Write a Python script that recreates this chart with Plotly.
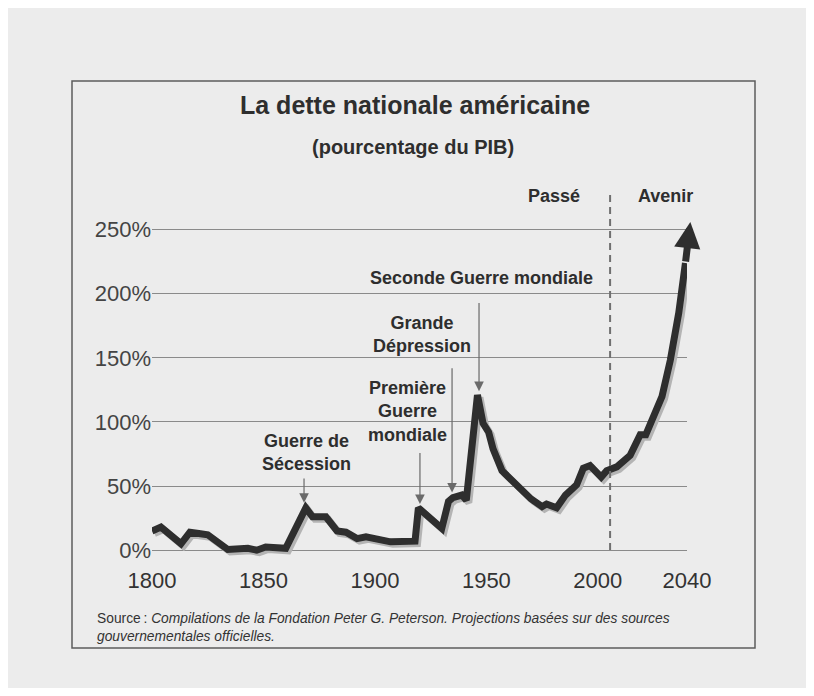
import plotly.graph_objects as go

# ---------------- data ----------------
years = [1800, 1804, 1813, 1817, 1821, 1825, 1834, 1843, 1847, 1851, 1860,
         1869, 1872, 1878, 1883, 1887, 1892, 1896, 1907, 1918, 1919.5,
         1922, 1930, 1933, 1935, 1939, 1941, 1946, 1948.5, 1951, 1953,
         1957, 1962, 1966, 1970, 1975, 1977, 1981.5, 1985.5, 1990.5, 1993.5,
         1996.5, 2001.5, 2004, 2008.5, 2014.5, 2019, 2021.5, 2025, 2028.8,
         2032.5, 2036.3, 2039.3, 2041.5]
debt_pct = [15, 18, 5, 14, 13, 12, 0.5, 1.5, 0, 2.5, 1.5,
            33, 26, 26, 15, 14, 9, 10.5, 6.5, 7, 33,
            29, 17, 38, 41, 43, 39, 121, 99, 92, 79,
            62, 53, 46, 40, 34, 36, 33, 43, 51, 64,
            66, 57, 62, 65, 74, 90, 90, 103, 120,
            148, 185, 224, 256]

x_tick_vals = [1800, 1850, 1900, 1950, 2000, 2040]
y_tick_vals = [0, 50, 100, 150, 200, 250]
y_tick_text = [f"{v}%" for v in y_tick_vals]

title_text = "La dette nationale américaine"
subtitle_text = "(pourcentage du PIB)"
event_labels = ["Guerre de<br>Sécession", "Première<br>Guerre<br>mondiale",
                "Grande<br>Dépression", "Seconde Guerre mondiale"]
period_labels = ["Passé", "Avenir"]
divider_year = 2005.5
source_text = ("Source\u202f: <i>Compilations de la Fondation Peter G. Peterson. "
               "Projections basées sur des sources<br>gouvernementales officielles.</i>")

# ---------------- layout constants ----------------
FONT = "Liberation Sans, Arial, Helvetica, sans-serif"
INK = "#2e2e2e"
OFF = 8                      # the page places the figure 8px from the top-left corner
W, H = 814 - 2 * OFF, 696 - 2 * OFF
PLOT_LEFT, PLOT_RIGHT, PLOT_TOP, PLOT_BOTTOM = 152, 687, 204, 563   # screen pixels
ML, MR = PLOT_LEFT - OFF, W + OFF - PLOT_RIGHT
MT, MB = PLOT_TOP - OFF, H + OFF - PLOT_BOTTOM
X_RANGE = [1800, 2040]
Y_RANGE = [-10, 270]
plot_w = W - ML - MR
plot_h = H - MT - MB
px_per_year = plot_w / (X_RANGE[1] - X_RANGE[0])
px_per_pct = plot_h / (Y_RANGE[1] - Y_RANGE[0])
shadow_dx, shadow_dy = 2.5, 2.5  # pixels


def px_x(p):
    """screen x pixel -> paper fraction"""
    return (p - PLOT_LEFT) / plot_w


def px_y(p):
    """screen y pixel -> paper fraction"""
    return (PLOT_BOTTOM - p) / plot_h


# event label centres (year, pct) and arrows (year, tail pct, tip pct)
label_pos = [(1869.5, 76), (1914.4, 108), (1921.1, 168), (1947.6, 212.5)]
arrow_pos = [(1868.2, 57, 37), (1920.2, 77, 36), (1934.6, 143, 45), (1946.7, 194, 124)]
period_x = [1980.3, 2030.5]

fig = go.Figure()

# shadow of the line (same data, on an axis pair shifted by a few pixels)
fig.add_trace(go.Scatter(
    x=years[:-1], y=debt_pct[:-1], mode="lines", xaxis="x2", yaxis="y2",
    line=dict(color="#b4b4b4", width=7), hoverinfo="skip", showlegend=False))

# main line
fig.add_trace(go.Scatter(
    x=years[:-1], y=debt_pct[:-1], mode="lines", xaxis="x3", yaxis="y3",
    line=dict(color=INK, width=7), showlegend=False))

annotations = []
# arrow-head at the end of the projection
annotations.append(dict(
    x=years[-1], y=debt_pct[-1], ax=years[-2], ay=debt_pct[-2],
    xref="x3", yref="y3", axref="x3", ayref="y3", text="", showarrow=True,
    arrowhead=2, arrowsize=0.75, arrowwidth=7, arrowcolor=INK, standoff=0))

for lab, (lx, ly) in zip(event_labels, label_pos):
    annotations.append(dict(
        x=lx, y=ly, xref="x", yref="y", text="<b>" + lab + "</b>", showarrow=False,
        font=dict(family=FONT, size=18, color=INK), align="center",
        xanchor="center", yanchor="middle"))

for (axx, tail, tip) in arrow_pos:
    annotations.append(dict(
        x=axx, y=tip, ax=axx, ay=tail, xref="x", yref="y", axref="x", ayref="y",
        text="", showarrow=True, arrowhead=2, arrowsize=1.6, arrowwidth=1.2,
        arrowcolor="#6a6a6a", standoff=0))

for lab, xx in zip(period_labels, period_x):
    annotations.append(dict(
        x=xx, y=px_y(196), xref="x", yref="paper", text="<b>" + lab + "</b>",
        showarrow=False, font=dict(family=FONT, size=18, color=INK),
        xanchor="center", yanchor="middle"))

annotations.append(dict(
    x=px_x(415), y=px_y(105), xref="paper", yref="paper",
    text="<b>" + title_text + "</b>", showarrow=False,
    font=dict(family=FONT, size=25, color=INK), xanchor="center", yanchor="middle"))
annotations.append(dict(
    x=px_x(413), y=px_y(147), xref="paper", yref="paper",
    text="<b>" + subtitle_text + "</b>", showarrow=False,
    font=dict(family=FONT, size=20, color=INK), xanchor="center", yanchor="middle"))
annotations.append(dict(
    x=px_x(95), y=px_y(609), xref="paper", yref="paper", text=source_text,
    showarrow=False, align="left", xanchor="left", yanchor="top",
    font=dict(family=FONT, size=13.8, color="#333333")))

shapes = [
    # frame around the chart
    dict(type="rect", xref="paper", yref="paper",
         x0=px_x(72), x1=px_x(755), y0=px_y(648), y1=px_y(81),
         line=dict(color="#5c5c5c", width=1.5), layer="below"),
    # past / future divider
    dict(type="line", xref="x", yref="paper", x0=divider_year, x1=divider_year,
         y0=px_y(550), y1=px_y(193),
         line=dict(color="#707070", width=2, dash="7px,5px")),
]

axis_common = dict(showline=False, zeroline=False, ticks="")
fig.update_layout(
    width=W, height=H,
    margin=dict(l=ML, r=MR, t=MT, b=MB, pad=0),
    paper_bgcolor="#ececec", plot_bgcolor="rgba(0,0,0,0)",
    showlegend=False,
    xaxis=dict(range=X_RANGE, tickvals=x_tick_vals, showgrid=False,
               tickfont=dict(family=FONT, size=22, color="#333333"),
               ticklabelstandoff=2, **axis_common),
    yaxis=dict(range=Y_RANGE, tickvals=y_tick_vals, ticktext=y_tick_text,
               showgrid=True, gridcolor="#8a8a8a", gridwidth=1,
               tickfont=dict(family=FONT, size=22, color="#444444"),
               ticklabelstandoff=0, **axis_common),
    xaxis2=dict(range=[X_RANGE[0] - shadow_dx / px_per_year, X_RANGE[1] - shadow_dx / px_per_year],
                overlaying="x", visible=False),
    yaxis2=dict(range=[Y_RANGE[0] + shadow_dy / px_per_pct, Y_RANGE[1] + shadow_dy / px_per_pct],
                overlaying="y", visible=False),
    xaxis3=dict(range=X_RANGE, overlaying="x", visible=False),
    yaxis3=dict(range=Y_RANGE, overlaying="y", visible=False),
    annotations=annotations,
    shapes=shapes,
)

fig.write_html("out.html")
